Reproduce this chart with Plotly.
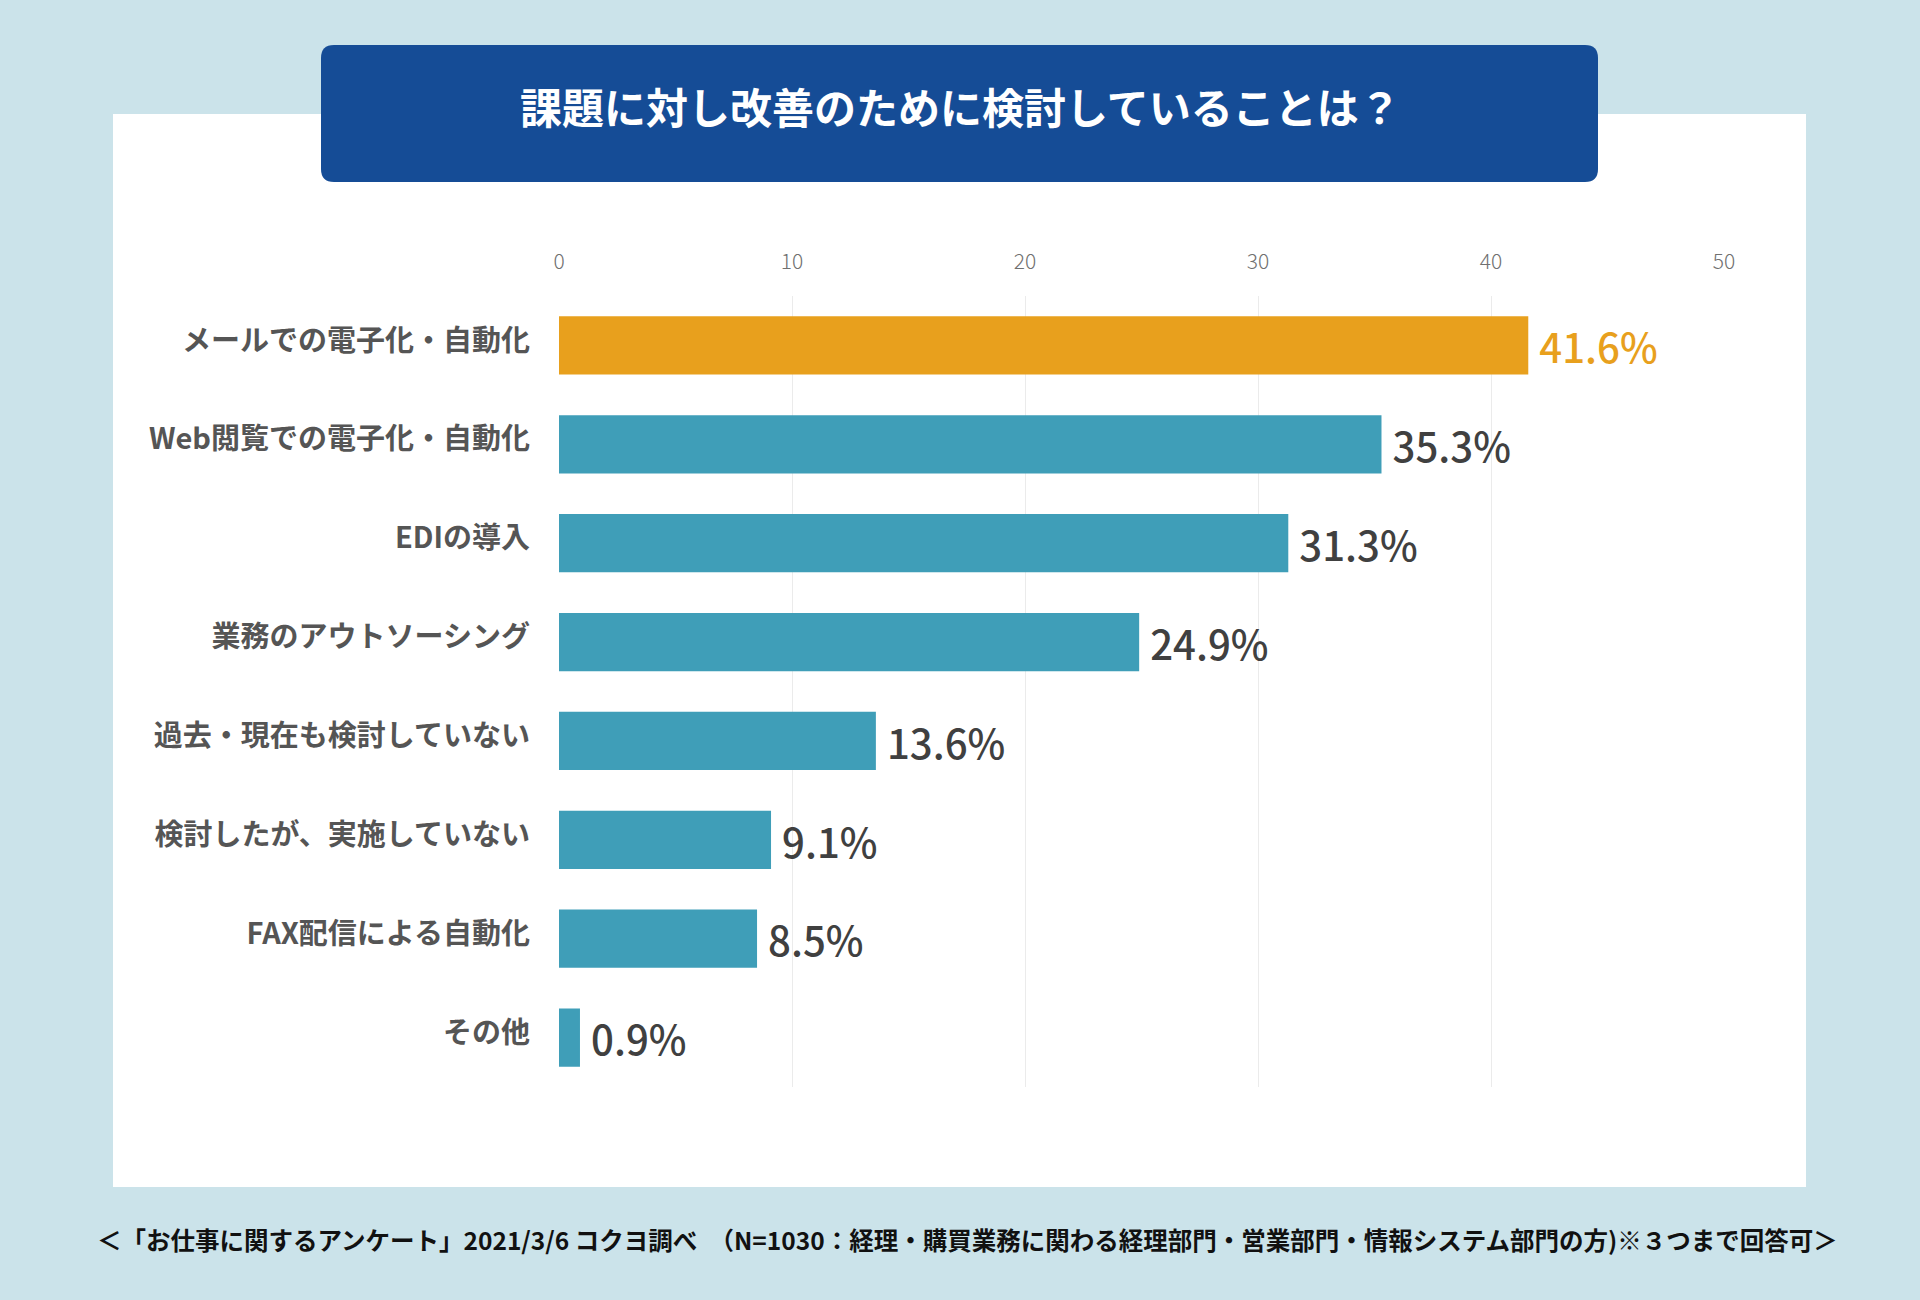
import plotly.graph_objects as go

categories = [
    "メールでの電子化・自動化",
    "Web閲覧での電子化・自動化",
    "EDIの導入",
    "業務のアウトソーシング",
    "過去・現在も検討していない",
    "検討したが、実施していない",
    "FAX配信による自動化",
    "その他",
]
values = [41.6, 35.3, 31.3, 24.9, 13.6, 9.1, 8.5, 0.9]
highlight = [True, False, False, False, False, False, False, False]
tick_vals = [0, 10, 20, 30, 40, 50]

title_text = "課題に対し改善のために検討していることは？"
footer_text = "＜「お仕事に関するアンケート」2021/3/6 コクヨ調べ　（N=1030：経理・購買業務に関わる経理部門・営業部門・情報システム部門の方)※３つまで回答可＞"

W, H = 1920, 1300
BG = "#CBE3EA"
NAVY = "#154C96"
ORANGE = "#E8A01D"
TEAL = "#3F9EB8"
FONT = "Noto Sans CJK JP"


def px_x(x):
    return x / W


def px_y(y):
    return 1 - y / H


def rounded_rect(x0, y0, x1, y1, r):
    p = lambda x, y: f"{px_x(x):.5f},{px_y(y):.5f}"
    return (
        f"M {p(x0 + r, y0)} L {p(x1 - r, y0)} Q {p(x1, y0)} {p(x1, y0 + r)} "
        f"L {p(x1, y1 - r)} Q {p(x1, y1)} {p(x1 - r, y1)} "
        f"L {p(x0 + r, y1)} Q {p(x0, y1)} {p(x0, y1 - r)} "
        f"L {p(x0, y0 + r)} Q {p(x0, y0)} {p(x0 + r, y0)} Z"
    )


bar_colors = [ORANGE if h else TEAL for h in highlight]
text_colors = [ORANGE if h else "#404040" for h in highlight]

fig = go.Figure(
    go.Bar(
        x=values,
        y=categories,
        orientation="h",
        marker=dict(color=bar_colors, line=dict(width=0)),
        texttemplate="\u2009%{x:.1f}%",
        textposition="outside",
        textfont=dict(family=FONT, size=42, color=text_colors, weight=500),
        cliponaxis=False,
        hoverinfo="skip",
    )
)

shapes = [
    dict(
        type="rect", xref="paper", yref="paper",
        x0=px_x(113), x1=px_x(1806), y0=px_y(1187), y1=px_y(114),
        fillcolor="white", line=dict(width=0), layer="below",
    ),
    dict(
        type="path", xref="paper", yref="paper",
        path=rounded_rect(321, 45, 1598, 182, 13),
        fillcolor=NAVY, line=dict(width=0), layer="below",
    ),
]

annotations = [
    dict(
        text=title_text, xref="paper", yref="paper",
        x=px_x(960), y=px_y(105), xanchor="center", yanchor="middle",
        showarrow=False,
        font=dict(family=FONT, size=42, color="white", weight=700),
    ),
    dict(
        text=footer_text, xref="paper", yref="paper",
        x=px_x(967), y=px_y(1239), xanchor="center", yanchor="middle",
        showarrow=False,
        font=dict(family=FONT, size=24.5, color="#111111", weight=700),
    ),
]

fig.update_layout(
    width=W,
    height=H,
    autosize=False,
    margin=dict(l=0, r=0, t=0, b=0, pad=0, autoexpand=False),
    paper_bgcolor=BG,
    plot_bgcolor="rgba(0,0,0,0)",
    showlegend=False,
    bargap=0.41,
    shapes=shapes,
    annotations=annotations,
    xaxis=dict(
        domain=[px_x(559), px_x(1724)],
        range=[0, 50],
        side="top",
        tickvals=tick_vals,
        ticks="",
        showgrid=True,
        gridcolor="#EBEBEB",
        gridwidth=1,
        zeroline=False,
        showline=False,
        automargin=False,
        ticklabelstandoff=22,
        tickfont=dict(family=FONT, size=21, color="#707070", weight=300),
        fixedrange=True,
    ),
    yaxis=dict(
        domain=[px_y(1087), px_y(296)],
        range=[len(categories) - 0.5, -0.5],
        ticks="",
        showgrid=False,
        zeroline=False,
        showline=False,
        automargin=False,
        ticklabelstandoff=28,
        ticklabelshift=5,
        tickfont=dict(family=FONT, size=29, color="#555555", weight=700),
        fixedrange=True,
    ),
)

fig.write_html(
    "out.html",
    config={"displayModeBar": False},
    post_script="document.body.style.margin='0';",
)
